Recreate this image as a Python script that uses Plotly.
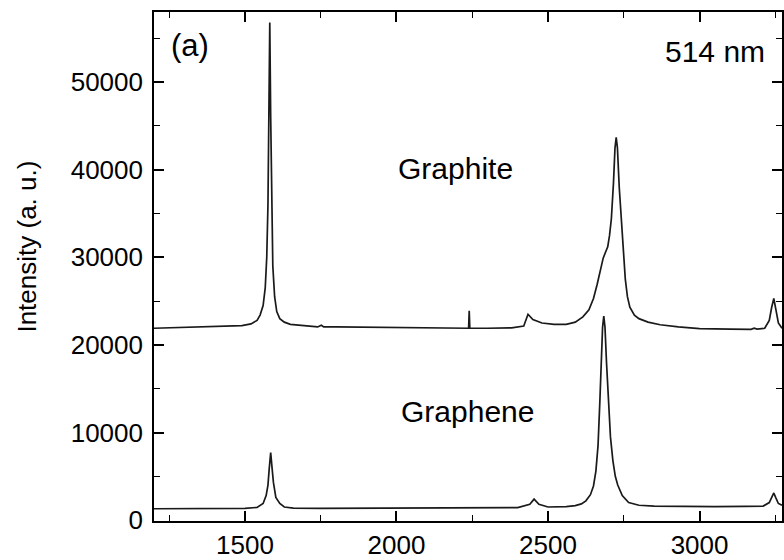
import plotly.graph_objects as go

# Raman shift (cm^-1) and intensity
graphite_x = [1200, 1250, 1300, 1350, 1400, 1450, 1490, 1520, 1540, 1550, 1560, 1567, 1572, 1576, 1579,
              1582, 1585, 1588, 1592, 1598, 1605, 1615, 1630, 1650, 1700, 1740, 1752, 1760, 1800, 1900,
              2000, 2100, 2200, 2238, 2240, 2242, 2300, 2380, 2420, 2434, 2450, 2480, 2520, 2560, 2590,
              2615, 2635, 2650, 2662, 2672, 2682, 2690, 2697, 2703, 2709, 2716, 2721, 2725, 2729, 2735,
              2741, 2748, 2755, 2762, 2770, 2785, 2800, 2830, 2870, 2930, 3000, 3100, 3170, 3180, 3190,
              3215, 3230, 3238, 3245, 3252, 3260, 3272]
graphite_y = [21900, 21950, 21950, 22000, 22050, 22100, 22200, 22400, 22800, 23400, 24500, 26500, 30000, 36000, 45000,
              56800, 46000, 36000, 29000, 25500, 23800, 23000, 22600, 22350, 22150, 22050, 22250, 22050, 22050, 22000,
              21950, 21950, 21900, 21900, 23900, 21900, 21900, 21950, 22150, 23500, 22900, 22500, 22350, 22350, 22600,
              23200, 24000, 25300, 26900, 28500, 29900, 30600, 31200, 32500, 34400, 38500, 42500, 43700, 42500, 38000,
              34400, 30500, 27500, 25500, 24300, 23400, 23000, 22600, 22300, 22050, 21850, 21800, 21780, 21900, 21800,
              21900, 22800, 24300, 25300, 24000, 22500, 21900]

graphene_x = [1200, 1300, 1400, 1500, 1540, 1560, 1570, 1576, 1580, 1585, 1590, 1594, 1602, 1615, 1630,
              1660, 1750, 1900, 2000, 2100, 2200, 2300, 2400, 2440, 2454, 2470, 2500, 2560, 2590, 2610,
              2625, 2640, 2650, 2658, 2665, 2671, 2676, 2680, 2684, 2688, 2693, 2699, 2706, 2714, 2722,
              2730, 2745, 2766, 2800, 2850, 2950, 3050, 3150, 3210, 3230, 3239, 3245, 3251, 3260, 3272]
graphene_y = [1300, 1300, 1320, 1330, 1450, 1900, 2800, 4000, 5800, 7700, 5800, 4300, 2600, 1900, 1500,
              1380, 1330, 1350, 1330, 1300, 1350, 1380, 1420, 1800, 2400, 1800, 1500, 1550, 1650, 1850,
              2200, 2900, 3900, 5600, 8500, 13500, 18500, 22000, 23300, 22000, 18000, 13800, 9500, 6800, 5000,
              4000, 2800, 2000, 1700, 1600, 1550, 1550, 1560, 1600, 2000, 2700, 3100, 2600, 1900, 1700]

x_range = [1200, 3272]
y_range = [-100, 58000]
y_ticks = [0, 10000, 20000, 30000, 40000, 50000]
y_tick_text = ["0", "10000", "20000", "30000", "40000", "50000"]
x_ticks = [1500, 2000, 2500, 3000]
x_tick_text = ["1500", "2000", "2500", "3000"]

FONT = "Liberation Sans, Arial, sans-serif"
LINE = "#1a1a1a"

fig = go.Figure()
fig.add_trace(go.Scatter(x=graphite_x, y=graphite_y, mode="lines",
                         line=dict(color=LINE, width=1.7), showlegend=False))
fig.add_trace(go.Scatter(x=graphene_x, y=graphene_y, mode="lines",
                         line=dict(color=LINE, width=1.7), showlegend=False))

axis_common = dict(showline=True, linecolor="black", linewidth=1.6, mirror="allticks",
                   ticks="inside", ticklen=10, tickwidth=1.6, tickcolor="black",
                   showgrid=False, zeroline=False,
                   tickfont=dict(family=FONT, size=26, color="black"))

fig.update_xaxes(range=x_range, tickvals=x_ticks, ticktext=x_tick_text,
                 minor=dict(ticks="inside", ticklen=6, tickwidth=1.4, tickcolor="black", dtick=250, tick0=1250),
                 **axis_common)
fig.update_yaxes(range=y_range, tickvals=y_ticks, ticktext=y_tick_text, ticklabelstandoff=4,
                 minor=dict(ticks="inside", ticklen=6, tickwidth=1.4, tickcolor="black", dtick=5000, tick0=0),
                 **axis_common)

W, H = 784, 560
ML, MR, MT, MB = 154, 0, 12, 35
pw, ph = W - ML - MR, H - MT - MB


def to_paper(px, py):
    return (px - ML) / pw, 1 - (py - MT) / ph


annots = [
    dict(text="(a)", x=190, y=46, size=31),
    dict(text="514 nm", x=717, y=52, size=30),
    dict(text="Graphite", x=456, y=170, size=30),
    dict(text="Graphene", x=468, y=415, size=30),
]
for a in annots:
    ax, ay = to_paper(a["x"], a["y"])
    fig.add_annotation(text=a["text"], x=ax, y=ay, xref="paper", yref="paper",
                       showarrow=False, xanchor="center", yanchor="middle",
                       font=dict(family=FONT, size=a["size"], color="black"))

tx, ty = to_paper(27, 248)
fig.add_annotation(text="Intensity (a. u.)", x=tx, y=ty, xref="paper", yref="paper",
                   showarrow=False, textangle=-90, xanchor="center", yanchor="middle",
                   font=dict(family=FONT, size=26, color="black"))

fig.update_layout(width=W, height=H, margin=dict(l=ML, r=MR, t=MT, b=MB),
                  paper_bgcolor="white", plot_bgcolor="white")

fig.write_html("out.html")
